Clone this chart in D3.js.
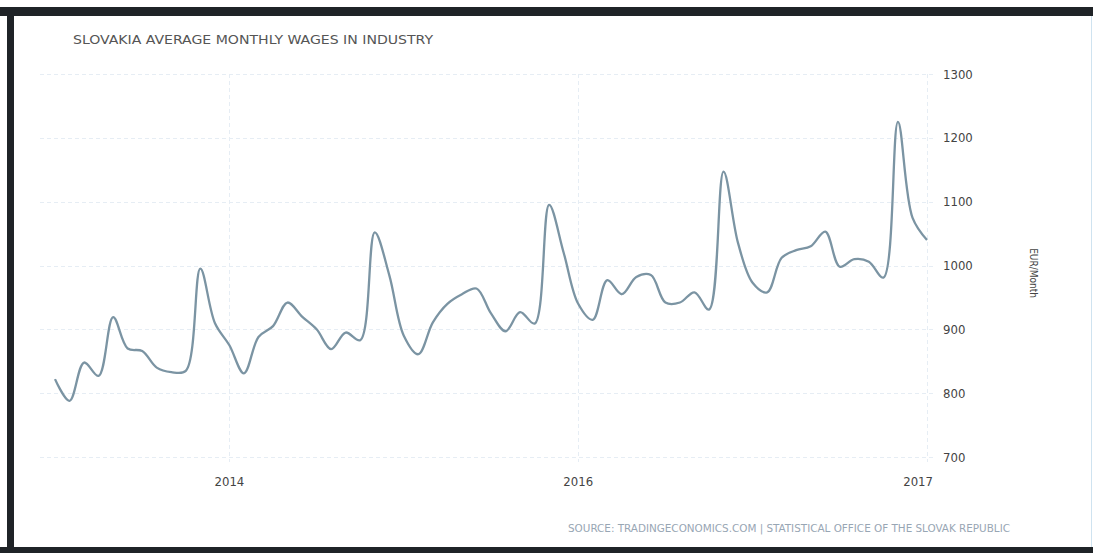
<!DOCTYPE html>
<html>
<head>
<meta charset="utf-8">
<script src="https://cdn.jsdelivr.net/npm/d3@7"></script>
<style>
  html, body { margin: 0; padding: 0; background: #fff; }
  svg { display: block; }
</style>
</head>
<body>
<div id="main"></div>
<script>
// monthly wages, EUR/Month, one value per month
const wages = [
    822, 788, 848, 827, 919, 870, 866, 840, 833, 835,
    995, 910, 875, 831, 888, 905, 942, 920, 900, 869,
    895, 883, 1052, 985, 890, 861, 911, 940, 955, 964,
    925, 897, 927, 909, 1095, 1020, 940, 915, 977, 955,
    982, 985, 942, 942, 958, 931, 1147, 1035, 973, 958,
    1012, 1024, 1030, 1053, 998, 1010, 1006, 981, 1225, 1075,
    1040
];
// month index -> label, as shown on the axis
const xTickIdx = [12, 36, 60];
const xTickLabels = ["2014", "2016", "2017"];
const yTicks = [700, 800, 900, 1000, 1100, 1200, 1300];

const title = "SLOVAKIA AVERAGE MONTHLY WAGES IN INDUSTRY";
const source = "SOURCE: TRADINGECONOMICS.COM | STATISTICAL OFFICE OF THE SLOVAK REPUBLIC";
const unit = "EUR/Month";

const width = 1093, height = 553;
const fontFamily = "'DejaVu Sans Condensed', 'DejaVu Sans', sans-serif";

const svg = d3.select("#main").append("svg")
    .attr("width", width)
    .attr("height", height);

const x = d3.scaleLinear().domain([0, wages.length - 1]).range([55, 927]);
const y = d3.scaleLinear().domain([700, 1300]).range([457, 74]);

// grid
const grid = svg.append("g")
    .attr("stroke", "#e6edf4")
    .attr("stroke-width", 1)
    .attr("stroke-dasharray", "4,3");
grid.selectAll("line.h")
    .data(yTicks)
    .enter()
    .append("line")
    .attr("x1", 40)
    .attr("x2", 934)
    .attr("y1", d => Math.round(y(d)) + 0.5)
    .attr("y2", d => Math.round(y(d)) + 0.5);
grid.selectAll("line.v")
    .data(xTickIdx)
    .enter()
    .append("line")
    .attr("x1", d => Math.round(x(d)) + 0.5)
    .attr("x2", d => Math.round(x(d)) + 0.5)
    .attr("y1", 74)
    .attr("y2", 462);

// y axis labels on the right
svg.append("g")
    .selectAll("text")
    .data(yTicks)
    .enter()
    .append("text")
    .attr("x", 943)
    .attr("y", d => y(d))
    .attr("dy", "0.35em")
    .attr("font-family", fontFamily)
    .attr("font-size", 13)
    .attr("fill", "#444")
    .text(d => d);

// x axis labels
svg.append("g")
    .selectAll("text")
    .data(xTickIdx)
    .enter()
    .append("text")
    .attr("x", (d, i) => i === xTickIdx.length - 1 ? x(d) + 6 : x(d))
    .attr("y", 486)
    .attr("text-anchor", (d, i) => i === xTickIdx.length - 1 ? "end" : "middle")
    .attr("font-family", fontFamily)
    .attr("font-size", 13)
    .attr("fill", "#444")
    .text((d, i) => xTickLabels[i]);

// the series
const line = d3.line()
    .curve(d3.curveCatmullRom.alpha(0.5))
    .x((d, i) => x(i))
    .y(d => y(d));

svg.append("path")
    .datum(wages)
    .attr("d", line)
    .attr("fill", "none")
    .attr("stroke", "#7b94a3")
    .attr("stroke-width", 2.3)
    .attr("stroke-linejoin", "round");

// texts
svg.append("text")
    .attr("x", 73)
    .attr("y", 44)
    .attr("font-family", fontFamily)
    .attr("font-size", 13)
    .attr("textLength", 360)
    .attr("lengthAdjust", "spacingAndGlyphs")
    .attr("fill", "#555")
    .text(title);

svg.append("text")
    .attr("x", 568)
    .attr("y", 532)
    .attr("font-family", fontFamily)
    .attr("font-size", 10)
    .attr("textLength", 442)
    .attr("lengthAdjust", "spacingAndGlyphs")
    .attr("fill", "#98a6b4")
    .text(source);

svg.append("text")
    .attr("transform", "translate(1030, 273) rotate(90)")
    .attr("text-anchor", "middle")
    .attr("font-family", fontFamily)
    .attr("font-size", 10)
    .attr("fill", "#444")
    .text(unit);

// dark frame of the screenshot
const frame = svg.append("g").attr("fill", "#1f2327");
frame.append("rect").attr("x", 0).attr("y", 7).attr("width", width).attr("height", 9);
frame.append("rect").attr("x", 7).attr("y", 7).attr("width", 7).attr("height", height - 7);
frame.append("rect").attr("x", 0).attr("y", 547).attr("width", width).attr("height", 6);
svg.append("line")
    .attr("x1", 1091.5).attr("x2", 1091.5)
    .attr("y1", 16).attr("y2", 547)
    .attr("stroke", "#cfe3f0")
    .attr("stroke-width", 1);
</script>
</body>
</html>
